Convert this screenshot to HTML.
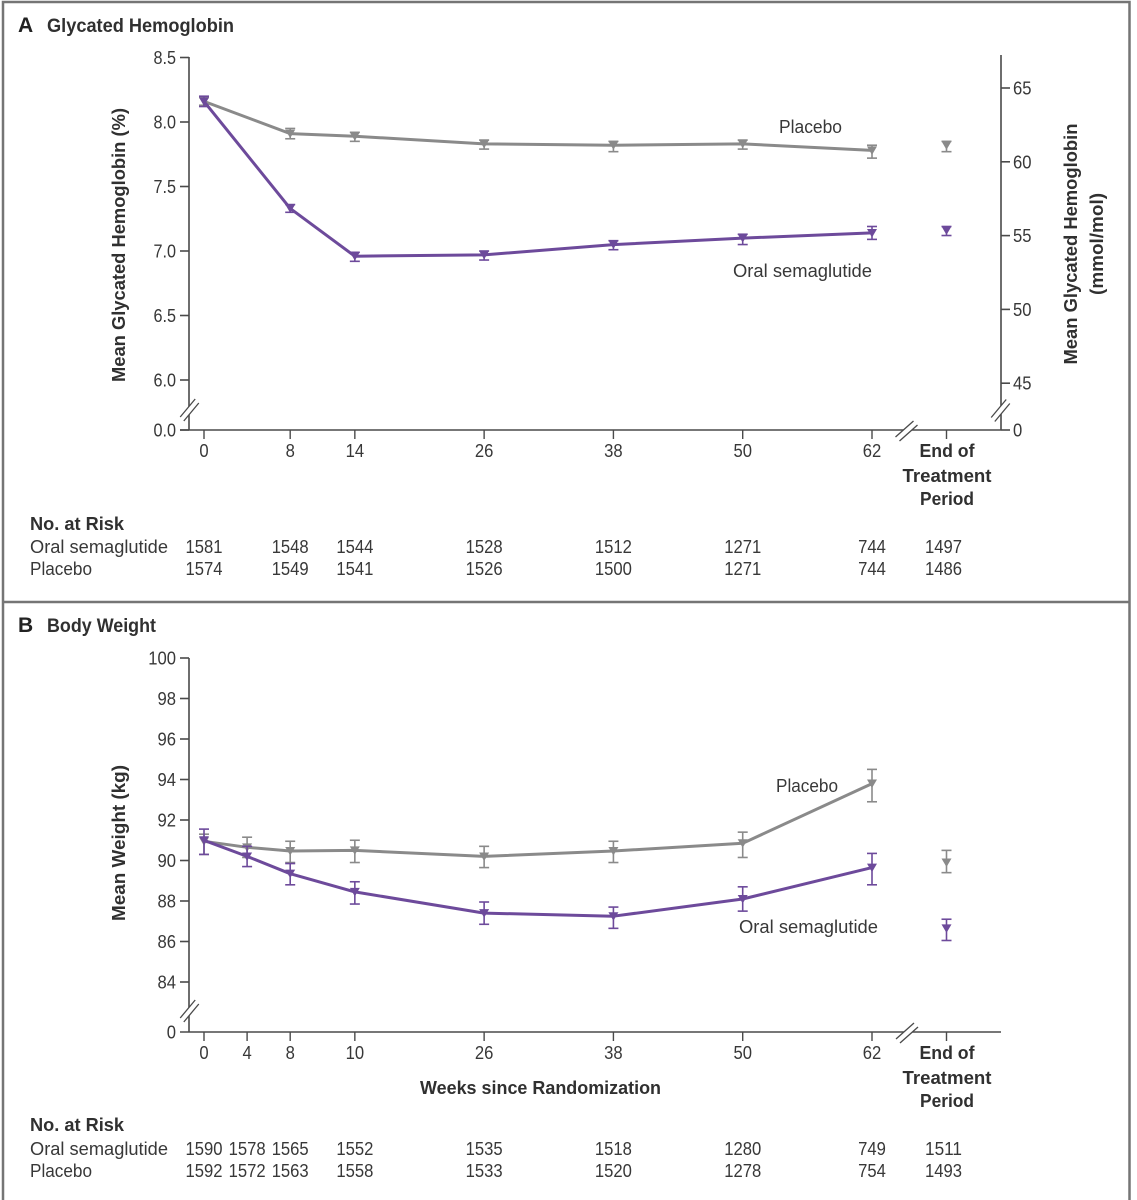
<!DOCTYPE html>
<html lang="en">
<head>
<meta charset="utf-8">
<title>Glycated Hemoglobin and Body Weight</title>
<style>
  html, body { margin: 0; padding: 0; background: #fff; }
  body { width: 1137px; height: 1200px; overflow: hidden; }
  svg { display: block; }
  text { font-family: "Liberation Sans", sans-serif; fill: #383838; font-size: 18px; }
  .bold { font-weight: bold; font-size: 18px; fill: #303030; }
  .title { font-weight: bold; font-size: 19px; fill: #303030; }
  .letter { font-weight: bold; font-size: 21px; fill: #222; }
</style>
</head>
<body>
<svg id="chart" xmlns="http://www.w3.org/2000/svg" width="1137" height="1200" viewBox="0 0 1137 1200">
  <rect width="1137" height="1200" fill="#fff"/>
  <path d="M3 1200V2H1129.5V1200" fill="none" stroke="#757575" stroke-width="2.5"/>
  <line x1="3" y1="602" x2="1129" y2="602" stroke="#757575" stroke-width="2.5"/>

  <text class="letter" x="18" y="32">A</text>
  <text class="title" x="47" y="32" textLength="187" lengthAdjust="spacingAndGlyphs">Glycated Hemoglobin</text>
  <text class="letter" x="18" y="632">B</text>
  <text class="title" x="47" y="632" textLength="109" lengthAdjust="spacingAndGlyphs">Body Weight</text>

  <text class="bold" transform="translate(125 245) rotate(-90)" text-anchor="middle" textLength="274" lengthAdjust="spacingAndGlyphs">Mean Glycated Hemoglobin (%)</text>
  <text class="bold" transform="translate(1077 244) rotate(-90)" text-anchor="middle" textLength="241" lengthAdjust="spacingAndGlyphs">Mean Glycated Hemoglobin</text>
  <text class="bold" transform="translate(1103 244) rotate(-90)" text-anchor="middle" textLength="102" lengthAdjust="spacingAndGlyphs">(mmol/mol)</text>
  <text class="bold" transform="translate(125 843) rotate(-90)" text-anchor="middle" textLength="156" lengthAdjust="spacingAndGlyphs">Mean Weight (kg)</text>
  <text class="bold" x="540.500" y="1094" text-anchor="middle" textLength="241" lengthAdjust="spacingAndGlyphs">Weeks since Randomization</text>

  <g class="eot">
    <text class="bold" x="947" y="457" text-anchor="middle" textLength="55" lengthAdjust="spacingAndGlyphs">End of</text>
    <text class="bold" x="947" y="482" text-anchor="middle" textLength="89" lengthAdjust="spacingAndGlyphs">Treatment</text>
    <text class="bold" x="947" y="505" text-anchor="middle" textLength="54" lengthAdjust="spacingAndGlyphs">Period</text>
  </g>
  <g>
    <text class="bold" x="947" y="1059" text-anchor="middle" textLength="55" lengthAdjust="spacingAndGlyphs">End of</text>
    <text class="bold" x="947" y="1084" text-anchor="middle" textLength="89" lengthAdjust="spacingAndGlyphs">Treatment</text>
    <text class="bold" x="947" y="1107" text-anchor="middle" textLength="54" lengthAdjust="spacingAndGlyphs">Period</text>
  </g>

  <text x="779" y="133" textLength="63" lengthAdjust="spacingAndGlyphs">Placebo</text>
  <text x="733" y="277" textLength="139" lengthAdjust="spacingAndGlyphs">Oral semaglutide</text>
  <text x="776" y="792" textLength="62" lengthAdjust="spacingAndGlyphs">Placebo</text>
  <text x="739" y="933" textLength="139" lengthAdjust="spacingAndGlyphs">Oral semaglutide</text>

  <text class="bold" x="30" y="530" textLength="94" lengthAdjust="spacingAndGlyphs">No. at Risk</text>
  <text x="30" y="553" textLength="138" lengthAdjust="spacingAndGlyphs">Oral semaglutide</text>
  <text x="30" y="575" textLength="62" lengthAdjust="spacingAndGlyphs">Placebo</text>
  <text class="bold" x="30" y="1131" textLength="94" lengthAdjust="spacingAndGlyphs">No. at Risk</text>
  <text x="30" y="1155" textLength="138" lengthAdjust="spacingAndGlyphs">Oral semaglutide</text>
  <text x="30" y="1177" textLength="62" lengthAdjust="spacingAndGlyphs">Placebo</text>
</svg>

<script>
// Panel A data (glycated hemoglobin, %)
const weeksA = [0, 8, 14, 26, 38, 50, 62];
const tickLabelsA = ['0', '8', '14', '26', '38', '50', '62'];
const placeboA = [8.16, 7.91, 7.89, 7.83, 7.82, 7.83, 7.78];
const placeboHighA = [8.19, 7.95, 7.92, 7.86, 7.85, 7.86, 7.82];
const placeboLowA = [8.13, 7.87, 7.85, 7.79, 7.77, 7.79, 7.72];
const semaglutideA = [8.16, 7.33, 6.96, 6.97, 7.05, 7.10, 7.14];
const semaglutideHighA = [8.20, 7.36, 6.99, 7.00, 7.08, 7.13, 7.19];
const semaglutideLowA = [8.12, 7.30, 6.92, 6.93, 7.01, 7.05, 7.09];
const placeboEndA = [7.82, 7.85, 7.77];
const semaglutideEndA = [7.16, 7.19, 7.12];
const yTicksLeftA = ['8.5', '8.0', '7.5', '7.0', '6.5', '6.0'];
const yTicksRightA = ['65', '60', '55', '50', '45'];
const riskSemaglutideA = ['1581', '1548', '1544', '1528', '1512', '1271', '744', '1497'];
const riskPlaceboA = ['1574', '1549', '1541', '1526', '1500', '1271', '744', '1486'];

// Panel B data (body weight, kg)
const weeksB = [0, 4, 8, 14, 26, 38, 50, 62];
const tickLabelsB = ['0', '4', '8', '10', '26', '38', '50', '62'];
const placeboB = [90.95, 90.65, 90.47, 90.5, 90.2, 90.47, 90.85, 93.8];
const placeboHighB = [91.3, 91.15, 90.95, 91.0, 90.7, 90.95, 91.4, 94.5];
const placeboLowB = [90.3, 90.15, 89.9, 89.9, 89.65, 89.9, 90.15, 92.9];
const semaglutideB = [91.0, 90.2, 89.35, 88.45, 87.4, 87.25, 88.1, 89.65];
const semaglutideHighB = [91.55, 90.7, 89.85, 88.95, 87.95, 87.7, 88.7, 90.35];
const semaglutideLowB = [90.3, 89.7, 88.8, 87.85, 86.85, 86.65, 87.5, 88.8];
const placeboEndB = [89.9, 90.5, 89.4];
const semaglutideEndB = [86.65, 87.1, 86.05];
const yTicksB = ['100', '98', '96', '94', '92', '90', '88', '86', '84'];
const riskSemaglutideB = ['1590', '1578', '1565', '1552', '1535', '1518', '1280', '749', '1511'];
const riskPlaceboB = ['1592', '1572', '1563', '1558', '1533', '1520', '1278', '754', '1493'];

const svg = document.getElementById('chart');
const NS = 'http://www.w3.org/2000/svg';
const GRAY = '#8a8a8a';
const PURPLE = '#6d4a9b';
const AXIS = '#4a4a4a';
const END_X = 946.5;

// Axis functions
const xWeek = w => 204 + w * (872 - 204) / 62;
const yHbA1c = v => 380 - (v - 6) * 129;
const yMmol = v => 88 + (65 - v) * 14.76;
const yWeight = v => 982 - (v - 84) * 20.25;

function make(tag, attrs, parent, content) {
  const node = document.createElementNS(NS, tag);
  for (const k in attrs) node.setAttribute(k, attrs[k]);
  if (content !== undefined) node.textContent = content;
  (parent || svg).appendChild(node);
  return node;
}

function axisLine(x1, y1, x2, y2, name, w) {
  const el = make('line', { x1, y1, x2, y2, stroke: AXIS, 'stroke-width': w || 1.6 });
  
  
  return el;
}

// Numeric labels: the reference digits are tall but narrow, so squeeze them horizontally.
function label(x, y, str, anchor, name) {
  const width = str.replace('.', '').length * 9.25 + (str.includes('.') ? 4 : 0);
  const el = make('text', { x, y, 'text-anchor': anchor, textLength: width, lengthAdjust: 'spacingAndGlyphs' }, svg, str);
  
  
  return el;
}

function breakMark(cx, cy, dx, dy, ox, oy, name) {
  const g = make('g', {});
  
  
  make('polygon', {
    points: [[cx - dx - ox, cy + dy - oy], [cx + dx - ox, cy - dy - oy], [cx + dx + ox, cy - dy + oy], [cx - dx + ox, cy + dy + oy]].map(p => p.join(',')).join(' '),
    fill: '#fff'
  }, g);
  make('line', { x1: cx - dx - ox, y1: cy + dy - oy, x2: cx + dx - ox, y2: cy - dy - oy, stroke: AXIS, 'stroke-width': 1.3 }, g);
  make('line', { x1: cx - dx + ox, y1: cy + dy + oy, x2: cx + dx + ox, y2: cy - dy + oy, stroke: AXIS, 'stroke-width': 1.3 }, g);
}

function marker(parent, x, val, hi, lo, color, yScale) {
  const yv = yScale(val), yh = yScale(hi), yl = yScale(lo);
  make('line', { x1: x, y1: yh, x2: x, y2: yl, stroke: color, 'stroke-width': 1.6 }, parent);
  make('line', { x1: x - 5, y1: yh, x2: x + 5, y2: yh, stroke: color, 'stroke-width': 1.6 }, parent);
  make('line', { x1: x - 5, y1: yl, x2: x + 5, y2: yl, stroke: color, 'stroke-width': 1.6 }, parent);
  make('polygon', {
    points: (x - 5) + ',' + (yv - 4) + ' ' + (x + 5) + ',' + (yv - 4) + ' ' + x + ',' + (yv + 4.5),
    fill: color
  }, parent);
}

function series(weeks, vals, highs, lows, end, color, yScale, name) {
  const g = make('g', {});
  
  
  const pts = weeks.map((w, i) => xWeek(w).toFixed(1) + ',' + yScale(vals[i]).toFixed(1)).join(' ');
  make('polyline', { points: pts, fill: 'none', stroke: color, 'stroke-width': 3, 'stroke-linejoin': 'round' }, g);
  weeks.forEach((w, i) => marker(g, xWeek(w), vals[i], highs[i], lows[i], color, yScale));
  marker(g, END_X, end[0], end[1], end[2], color, yScale);
}

function xAxis(weeks, labels, y0, labelY, prefix) {
  weeks.forEach((w, i) => {
    axisLine(xWeek(w), y0, xWeek(w), y0 + 9, prefix + '-x-tick-' + labels[i], 1.4);
    label(xWeek(w), labelY, labels[i], 'middle', prefix + '-x-tick-label-' + labels[i]);
  });
  axisLine(END_X, y0, END_X, y0 + 9, prefix + '-x-tick-end-of-treatment', 1.4);
}

function riskRow(weeks, values, y, name) {
  values.forEach((v, i) => {
    const x = i < weeks.length ? xWeek(weeks[i]) : END_X - 3;
    label(x, y, v, 'middle', name + '-' + i);
  });
}

// Panel A axes
axisLine(189, 57, 189, 430, 'a-left-axis');
axisLine(1001, 55, 1001, 430, 'a-right-axis');
axisLine(180, 430, 1001, 430, 'a-x-axis');
yTicksLeftA.forEach(t => {
  const y = yHbA1c(parseFloat(t));
  axisLine(180, y, 189, y, 'a-left-tick-' + t);
  label(176, y + 6.5, t, 'end', 'a-left-tick-label-' + t);
});
axisLine(180, 430, 189, 430, 'a-left-tick-zero');
label(176, 436.5, '0.0', 'end', 'a-left-tick-label-zero');
yTicksRightA.forEach(t => {
  const y = yMmol(parseFloat(t));
  axisLine(1001, y, 1010, y, 'a-right-tick-' + t);
  label(1013, y + 6.5, t, 'start', 'a-right-tick-label-' + t);
});
axisLine(1001, 430, 1010, 430, 'a-right-tick-zero');
label(1013, 436.5, '0', 'start', 'a-right-tick-label-zero');
breakMark(189.5, 410, 7.5, 9, 1.8, 2, 'a-left-axis-break');
breakMark(1000.5, 410.5, 7.5, 9, 1.8, 2, 'a-right-axis-break');
breakMark(906.5, 431, 9, 8, 2, 2, 'a-x-axis-break');
xAxis(weeksA, tickLabelsA, 430, 457, 'a');

// Panel A series
series(weeksA, placeboA, placeboHighA, placeboLowA, placeboEndA, GRAY, yHbA1c, 'a-series-placebo');
series(weeksA, semaglutideA, semaglutideHighA, semaglutideLowA, semaglutideEndA, PURPLE, yHbA1c, 'a-series-oral-semaglutide');
riskRow(weeksA, riskSemaglutideA, 553, 'a-risk-semaglutide');
riskRow(weeksA, riskPlaceboA, 575, 'a-risk-placebo');

// Panel B axes
axisLine(189, 658, 189, 1032, 'b-left-axis');
axisLine(180, 1032, 1001, 1032, 'b-x-axis');
yTicksB.forEach(t => {
  const y = yWeight(parseFloat(t));
  axisLine(180, y, 189, y, 'b-left-tick-' + t);
  label(176, y + 6.5, t, 'end', 'b-left-tick-label-' + t);
});
label(176, 1038.5, '0', 'end', 'b-left-tick-label-zero');
breakMark(189.5, 1011, 7.5, 9, 1.8, 2, 'b-left-axis-break');
breakMark(907, 1033, 9, 8, 2, 2, 'b-x-axis-break');
xAxis(weeksB, tickLabelsB, 1032, 1059, 'b');

// Panel B series
series(weeksB, placeboB, placeboHighB, placeboLowB, placeboEndB, GRAY, yWeight, 'b-series-placebo');
series(weeksB, semaglutideB, semaglutideHighB, semaglutideLowB, semaglutideEndB, PURPLE, yWeight, 'b-series-oral-semaglutide');
riskRow(weeksB, riskSemaglutideB, 1155, 'b-risk-semaglutide');
riskRow(weeksB, riskPlaceboB, 1177, 'b-risk-placebo');
</script>
</body>
</html>
